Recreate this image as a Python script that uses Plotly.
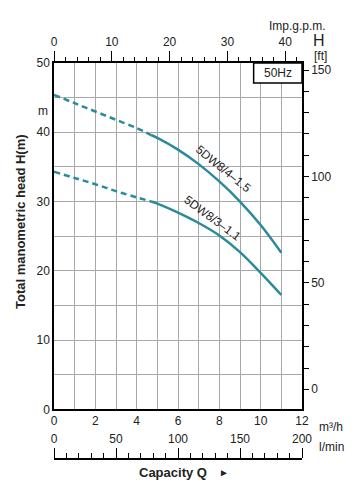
import plotly.graph_objects as go

# ---------------- data ----------------
q_dashed = [0, 1, 2, 3, 4, 4.7]
q_solid = [4.7, 5, 6, 7, 8, 9, 10, 11]
h_4_15_dashed = [45.4, 44.2, 43.0, 41.8, 40.6, 39.6]
h_4_15_solid = [39.6, 39.2, 37.5, 35.4, 32.9, 30.0, 26.6, 22.6]
h_3_11_dashed = [34.3, 33.4, 32.5, 31.5, 30.6, 30.0]
h_3_11_solid = [30.0, 29.7, 28.4, 26.9, 25.1, 22.7, 19.7, 16.5]
curve_names = ["5DW8/4–1.5", "5DW8/3–1.1"]

x_m3h_ticks = list(range(0, 13))
x_m3h_labels = [str(v) if v % 2 == 0 else "" for v in x_m3h_ticks]
y_m_ticks = list(range(0, 51, 5))
y_m_labels = [str(v) if v % 10 == 0 else "" for v in y_m_ticks]
y_ft_ticks = list(range(0, 151, 10))
y_ft_labels = [str(v) if v % 50 == 0 else "" for v in y_ft_ticks]

# ---------------- layout geometry ----------------
OFF = 8  # page body margin
W, H = 356 - OFF, 484 - OFF
ML, MR, MT, MB = 54 - OFF, 54, 63 - OFF, 25
PW, PH = W - ML - MR, H - MT - MB
ydom0 = (H - MB - (409.3 - OFF)) / PH


def px(x):
    return (x - OFF - ML) / PW


def py(y):
    return (H - MB - (y - OFF)) / PH


FONT = "Liberation Sans, Arial, sans-serif"
TEAL = "#2a8b9a"
GRID = "#a8a8a8"

fig = go.Figure()
for hd, hs in [(h_4_15_dashed, h_4_15_solid), (h_3_11_dashed, h_3_11_solid)]:
    fig.add_trace(go.Scatter(x=q_dashed, y=hd, mode="lines", line=dict(color=TEAL, width=2.5, dash="6px,4px", shape="spline"),
                             showlegend=False, hoverinfo="skip"))
    fig.add_trace(go.Scatter(x=q_solid, y=hs, mode="lines", line=dict(color=TEAL, width=2.5, shape="spline"),
                             showlegend=False, hoverinfo="skip"))
# empty traces to activate secondary axes
fig.add_trace(go.Scatter(x=[], y=[], xaxis="x2", yaxis="y", showlegend=False, hoverinfo="skip"))
fig.add_trace(go.Scatter(x=[], y=[], xaxis="x3", yaxis="y", showlegend=False, hoverinfo="skip"))
fig.add_trace(go.Scatter(x=[], y=[], xaxis="x", yaxis="y2", showlegend=False, hoverinfo="skip"))

tickfont = dict(family=FONT, size=12, color="#222")

fig.update_layout(
    width=W, height=H, autosize=False,
    margin=dict(l=ML, r=MR, t=MT, b=MB, pad=0),
    paper_bgcolor="white", plot_bgcolor="white",
    font=dict(family=FONT, size=12, color="#222"),
    xaxis=dict(range=[0, 12], domain=[0, 1], anchor="y", tickmode="array", tickvals=x_m3h_ticks, ticktext=x_m3h_labels,
               showgrid=True, gridcolor=GRID, gridwidth=1, showline=True, linecolor="black", linewidth=1.5,
               ticks="", tickfont=tickfont, zeroline=False, fixedrange=True),
    yaxis=dict(range=[0, 50], domain=[ydom0, 1], anchor="x", tickmode="array", tickvals=y_m_ticks, ticktext=y_m_labels,
               showgrid=True, gridcolor=GRID, gridwidth=1, showline=True, linecolor="black", linewidth=1.5,
               ticks="", tickfont=tickfont, zeroline=False, fixedrange=True),
    xaxis2=dict(range=[0, 42.9], overlaying="x", side="top", anchor="y", dtick=10, tick0=0,
                ticks="outside", ticklen=10, tickwidth=1, tickcolor="black",
                minor=dict(dtick=2, tick0=0, ticks="outside", ticklen=4, tickcolor="black", tickwidth=1),
                showline=True, linecolor="black", linewidth=1.5, showgrid=False, zeroline=False, tickfont=tickfont),
    xaxis3=dict(range=[0, 200], overlaying="x", side="top", anchor="free", position=0, dtick=50, tick0=0,
                ticks="outside", ticklen=10, tickwidth=1, tickcolor="black",
                minor=dict(dtick=10, tick0=0, ticks="outside", ticklen=5, tickcolor="black", tickwidth=1),
                showline=True, linecolor="black", linewidth=1.5, showgrid=False, zeroline=False, tickfont=tickfont),
    yaxis2=dict(range=[-9.4, 153.3], overlaying="y", side="right", anchor="x", tickmode="array",
                tickvals=y_ft_ticks, ticktext=y_ft_labels, ticks="outside", ticklen=5, tickwidth=1, tickcolor="black",
                showline=True, linecolor="black", linewidth=1.5, showgrid=False, zeroline=False, tickfont=tickfont),
)

# 50Hz box
fig.add_shape(type="rect", xref="x", yref="y", x0=9.66, x1=12, y0=47.1, y1=50,
              line=dict(color="black", width=1.5), fillcolor="white", layer="above")

ann = []
def A(text, x, y, size=12, bold=False, angle=0, xref="paper", yref="paper", **kw):
    t = f"<b>{text}</b>" if bold else text
    ann.append(dict(text=t, x=x, y=y, xref=xref, yref=yref, showarrow=False, textangle=angle, borderpad=0,
                    font=dict(family=FONT, size=size, color="#222"), xanchor="center", yanchor="middle", **kw))

A("50Hz", px(277.5), py(73.5))
A("m", px(43), py(111))
A("Total manometric head H(m)", px(20), py(222), size=13, bold=True, angle=-90)
A("Imp.g.p.m.", px(297), py(26))
A("H", px(319), py(40.5), size=16)
A("[ft]", px(320), py(56.5), size=12)
A("m³/h", px(331), py(427))
A("l/min", px(331), py(447))
A("Capacity Q", px(173), py(472), size=13, bold=True)
A("►", px(224), py(472), size=10)
A(curve_names[0], 8.2, 34.7, angle=39, xref="x", yref="y")
A(curve_names[1], 7.65, 27.6, angle=36.5, xref="x", yref="y")
fig.update_layout(annotations=ann)

fig.write_html("out.html")
